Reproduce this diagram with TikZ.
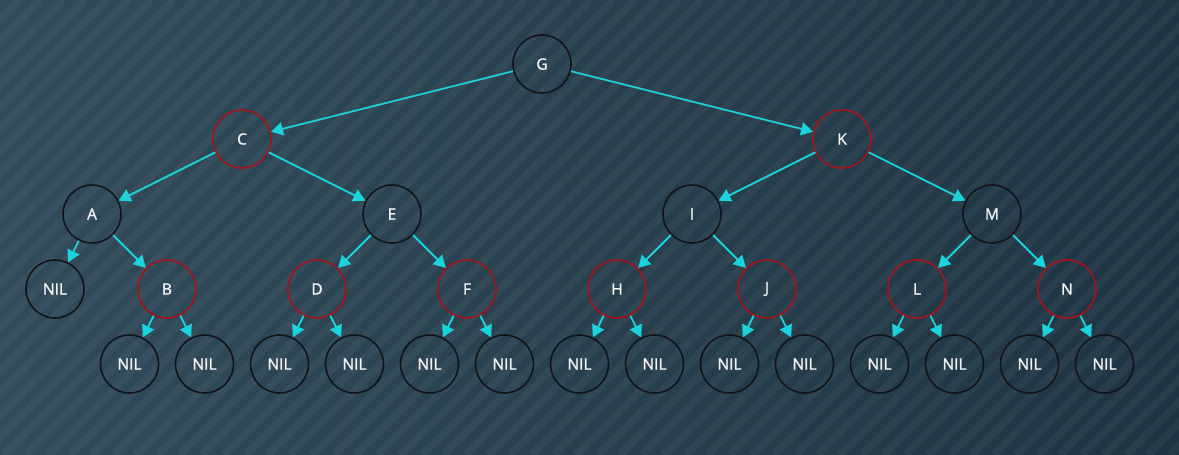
\documentclass[tikz,border=0pt]{standalone}
\usepackage{fontspec}
\setmainfont{Open Sans}
\newfontfamily\labelfont[FakeBold=1.5]{Open Sans}
\usetikzlibrary{positioning,arrows.meta}

\definecolor{bgleft}{HTML}{314B5A}
\definecolor{bgright}{HTML}{1F3442}
\definecolor{ringblack}{HTML}{121418}
\definecolor{ringred}{HTML}{A3141A}
\definecolor{linkcyan}{HTML}{1BD3DC}

\begin{document}
\begin{tikzpicture}[x=1pt,y=1pt,on grid,
		black node/.style={circle, draw=ringblack, line width=1.6pt, minimum size=58pt, inner sep=0pt,
			text=white!95!black, font=\labelfont\fontsize{15.5}{18}\selectfont},
		red node/.style={black node, draw=ringred},
		nil node/.style={black node},
		edge/.style={draw=linkcyan, line width=1.8pt, -{Triangle[length=12pt,width=13pt]}}
	]
	
	% background
	\shade[left color=bgleft, right color=bgright] (0,0) rectangle (1179,455);
	\begin{scope}
		\clip (0,0) rectangle (1179,455);
		\foreach \s in {-480,-458,...,1180}
			\draw[white, opacity=0.045, line width=8pt] (\s,0) -- ++(455,455);
	\end{scope}
	\useasboundingbox (0,0) rectangle (1179,455);
	
	% tree
	\node[black node] (g) at (542,391) {G};
	
	\node[red node] (c) [below left=75pt and 300pt of g] {C};
	\node[red node] (k) [below right=75pt and 300pt of g] {K};
	
	\node[black node] (a) [below left=75pt and 150pt of c] {A};
	\node[black node] (e) [below right=75pt and 150pt of c] {E};
	\node[black node] (i) [below left=75pt and 150pt of k] {I};
	\node[black node] (m) [below right=75pt and 150pt of k] {M};
	
	\node[nil node] (a_l) [below left=75pt and 37pt of a] {NIL};
	\node[red node] (b) [below right=75pt and 75pt of a] {B};
	\node[red node] (d) [below left=75pt and 75pt of e] {D};
	\node[red node] (f) [below right=75pt and 75pt of e] {F};
	\node[red node] (h) [below left=75pt and 75pt of i] {H};
	\node[red node] (j) [below right=75pt and 75pt of i] {J};
	\node[red node] (l) [below left=75pt and 75pt of m] {L};
	\node[red node] (n) [below right=75pt and 75pt of m] {N};
	
	\draw[edge] (g) -- (c);
	\draw[edge] (g) -- (k);
	\draw[edge] (c) -- (a);
	\draw[edge] (c) -- (e);
	\draw[edge] (k) -- (i);
	\draw[edge] (k) -- (m);
	\draw[edge] (a) -- (a_l);
	\draw[edge] (a) -- (b);
	\draw[edge] (e) -- (d);
	\draw[edge] (e) -- (f);
	\draw[edge] (i) -- (h);
	\draw[edge] (i) -- (j);
	\draw[edge] (m) -- (l);
	\draw[edge] (m) -- (n);
	
	% nil leaves of the red nodes
	\foreach \p in {b,d,f,h,j,l,n} {
		\node[nil node] (\p_l) [below left=75pt and 37.5pt of \p] {NIL};
		\node[nil node] (\p_r) [below right=75pt and 37.5pt of \p] {NIL};
		\draw[edge] (\p) -- (\p_l);
		\draw[edge] (\p) -- (\p_r);
	}
\end{tikzpicture}
\end{document}
